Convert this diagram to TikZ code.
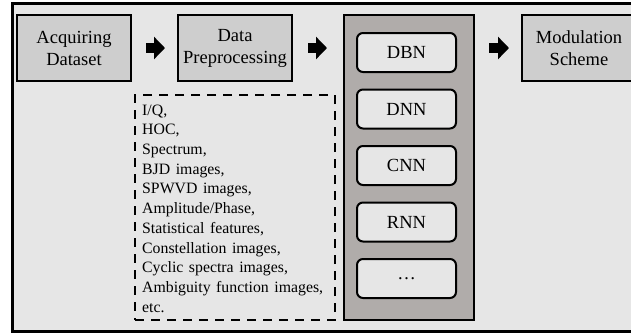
\documentclass[tikz,border=0pt]{standalone}
\usepackage{fontspec}
\setmainfont{Liberation Serif}
\usetikzlibrary{arrows.meta,calc}
\definecolor{bgc}{HTML}{E6E6E6}
\definecolor{boxc}{HTML}{CECECE}
\definecolor{panelc}{HTML}{B0ACAA}
\newcommand{\listfont}{\fontsize{15.8}{19.7}\selectfont\spaceskip=0.35em\relax}
\tikzset{
  mainbox/.style={draw=black, line width=2pt, fill=boxc, minimum width=114pt, minimum height=66pt, inner sep=0pt, align=center, font=\fontsize{18.5}{22}\selectfont},
  netbox/.style={draw=black, line width=2pt, fill=bgc, rounded corners=6pt, minimum width=99pt, minimum height=39pt, inner sep=0pt, font=\fontsize{18.5}{22}\selectfont},
  blockarrow/.style={line width=10pt, -{Triangle[length=11pt,width=22pt]}, shorten <=14pt, shorten >=12pt}
}
\begin{document}
\begin{tikzpicture}[x=1pt,y=-1pt]
\useasboundingbox (0,0) rectangle (631,333);
\clip (0,0) rectangle (631,333);
% outer frame
\draw[line width=3pt, fill=bgc] (12.5,3) rectangle (650,331);
% main boxes
\node[mainbox] (acq) at (74,48) {Acquiring\\Dataset};
\node[mainbox] (pre) at (235,48) {Data\\Preprocessing};
\node[mainbox] (mod) at (579,48) {Modulation\\Scheme};
% panel of networks
\node[draw=black, line width=2pt, fill=panelc, minimum width=130pt, minimum height=305pt, inner sep=0pt] (panel) at (409,167.5) {};
\node[netbox] (dbn) at (406.5,52.5) {DBN};
\node[netbox] (dnn) at (406.5,109) {DNN};
\node[netbox] (cnn) at (406.5,165.5) {CNN};
\node[netbox] (rnn) at (406.5,222) {RNN};
\node[netbox] (etc) at (406.5,278.5) {…};
% dashed list box
\node[draw=black, line width=2.5pt, dash pattern=on 9pt off 7pt, minimum width=200pt, minimum height=225pt, inner sep=0pt] (list) at (235,207.5) {};
\node[anchor=north west, inner sep=0pt, align=left, font=\listfont] (listtext) at (142,104.5)
  {I/Q,\\HOC,\\Spectrum,\\BJD images,\\SPWVD images,\\Amplitude/Phase,\\Statistical features,\\Constellation images,\\Cyclic spectra images,\\Ambiguity function images,\\etc.};
% block arrows
\coordinate (pin) at (panel.west |- pre.east);
\coordinate (pout) at (panel.east |- mod.west);
\draw[blockarrow] (acq.east) -- (pre.west);
\draw[blockarrow] ($(pre.east)+(1,0)$) -- ($(pin)+(-4,0)$);
\draw[blockarrow] (pout) -- (mod.west);
\end{tikzpicture}
\end{document}
